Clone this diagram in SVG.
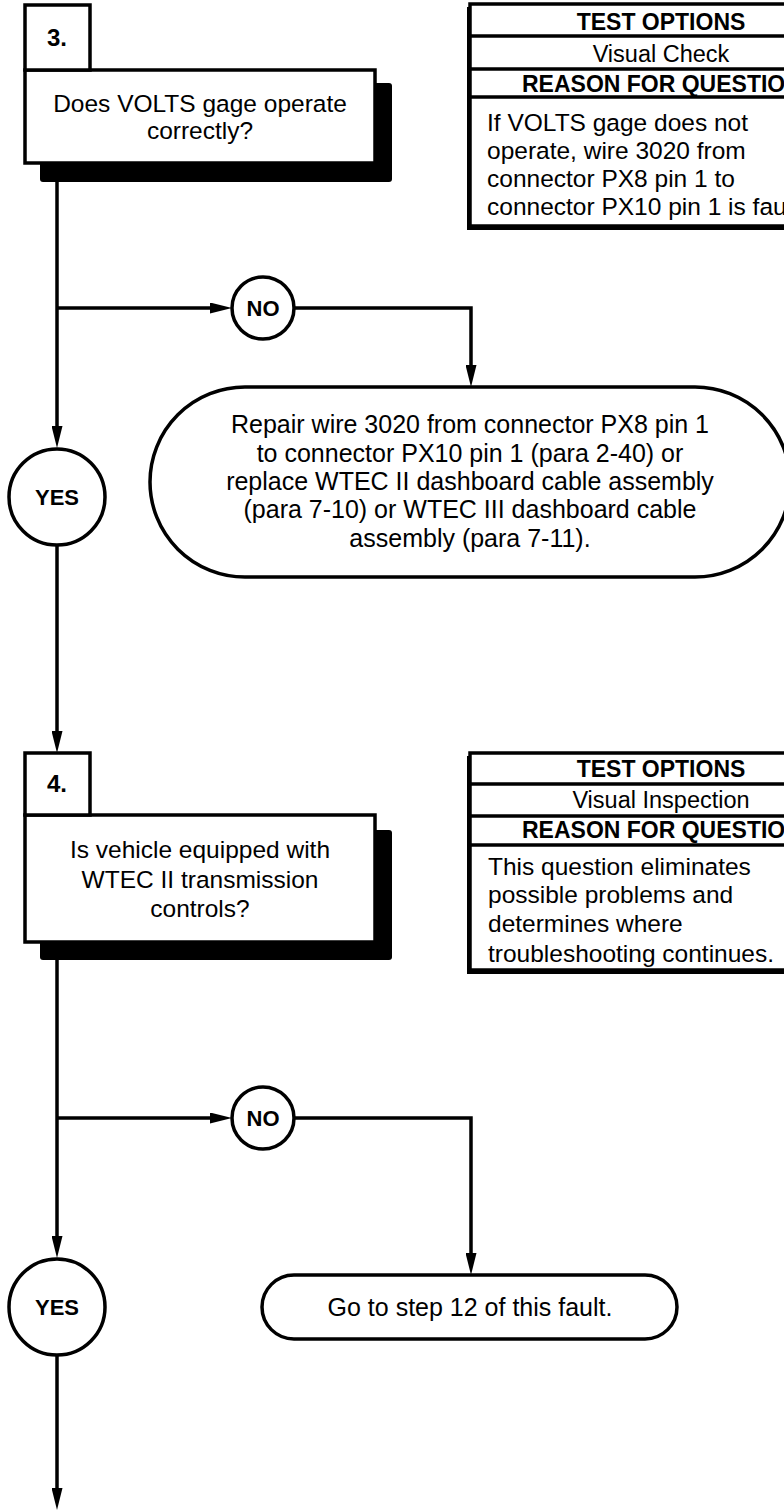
<svg xmlns="http://www.w3.org/2000/svg" width="784" height="1512" viewBox="0 0 784 1512">
<defs>
<marker id="ah" markerUnits="userSpaceOnUse" markerWidth="22" markerHeight="11" refX="10" refY="5.5" orient="auto">
<path d="M0,0 L22,5.5 L0,11 Z" fill="#000"/>
</marker>
<style>
.bx{fill:#fff;stroke:#000;stroke-width:3.5}
.sh{fill:#000}
.ln{fill:none;stroke:#000;stroke-width:3.5}
.cn{fill:none;stroke:#000;stroke-width:3.5;marker-end:url(#ah)}
.t{font-family:"Liberation Sans",Arial,sans-serif;fill:#000}
.q{font-size:24.5px;text-anchor:middle}
.num{font-size:24px;font-weight:bold;text-anchor:middle}
.lbl{font-size:22px;font-weight:bold;text-anchor:middle}
.hd{font-size:23px;font-weight:bold}
.rw{font-size:23.5px;text-anchor:middle}
.bd{font-size:24.5px}
.ov{font-size:25px;text-anchor:middle}
</style>
</defs>
<rect width="784" height="1512" fill="#fff"/>

<g id="connectors">
<path class="cn" d="M57,182 V436"/>
<path class="cn" d="M57,308 H220"/>
<path class="cn" d="M294,308 H471 V375"/>
<path class="cn" d="M57,545 V741"/>
<path class="cn" d="M57,960 V1246"/>
<path class="cn" d="M57,1118 H220"/>
<path class="cn" d="M294,1118 H471 V1263"/>
<path class="cn" d="M57,1355 V1498"/>
</g>

<g id="step3">
<rect class="sh" x="40" y="83" width="352" height="99" rx="3"/>
<rect class="bx" x="25" y="70" width="350" height="93"/>
<rect class="bx" x="25" y="5" width="65" height="65"/>
<text class="t num" x="57" y="46">3.</text>
<text class="t q" x="200" y="112">Does VOLTS gage operate</text>
<text class="t q" x="200" y="139">correctly?</text>
</g>

<g id="testbox3">
<rect class="sh" x="467" y="7" width="400" height="223"/>
<rect class="bx" x="470" y="4" width="400" height="222"/>
<line class="ln" x1="470" y1="36" x2="784" y2="36"/>
<line class="ln" x1="470" y1="69" x2="784" y2="69"/>
<line class="ln" x1="470" y1="97" x2="784" y2="97"/>
<text class="t hd" x="661" y="30" text-anchor="middle">TEST OPTIONS</text>
<text class="t rw" x="661" y="62">Visual Check</text>
<text class="t hd" x="522" y="92">REASON FOR QUESTIO</text>
<text class="t bd" x="487" y="131">If VOLTS gage does not</text>
<text class="t bd" x="487" y="159">operate, wire 3020 from</text>
<text class="t bd" x="487" y="187">connector PX8 pin 1 to</text>
<text class="t bd" x="487" y="215">connector PX10 pin 1 is fau</text>
</g>

<g id="no3">
<circle class="bx" cx="263" cy="308" r="31"/>
<text class="t lbl" x="263" y="316">NO</text>
</g>

<g id="yes3">
<circle class="bx" cx="57" cy="497" r="48"/>
<text class="t lbl" x="57" y="505">YES</text>
</g>

<g id="repair">
<rect class="bx" x="150" y="387" width="640" height="190" rx="95"/>
<text class="t ov" x="470" y="433">Repair wire 3020 from connector PX8 pin 1</text>
<text class="t ov" x="470" y="462">to connector PX10 pin 1 (para 2-40) or</text>
<text class="t ov" x="470" y="490">replace WTEC II dashboard cable assembly</text>
<text class="t ov" x="470" y="518">(para 7-10) or WTEC III dashboard cable</text>
<text class="t ov" x="470" y="547">assembly (para 7-11).</text>
</g>

<g id="step4">
<rect class="sh" x="40" y="830" width="352" height="130" rx="3"/>
<rect class="bx" x="25" y="815" width="350" height="127"/>
<rect class="bx" x="25" y="753" width="65" height="62"/>
<text class="t num" x="57" y="792">4.</text>
<text class="t q" x="200" y="858">Is vehicle equipped with</text>
<text class="t q" x="200" y="888">WTEC II transmission</text>
<text class="t q" x="200" y="917">controls?</text>
</g>

<g id="testbox4">
<rect class="sh" x="467" y="756" width="400" height="218"/>
<rect class="bx" x="470" y="753" width="400" height="217"/>
<line class="ln" x1="470" y1="784" x2="784" y2="784"/>
<line class="ln" x1="470" y1="816" x2="784" y2="816"/>
<line class="ln" x1="470" y1="845" x2="784" y2="845"/>
<text class="t hd" x="661" y="777" text-anchor="middle">TEST OPTIONS</text>
<text class="t rw" x="661" y="808">Visual Inspection</text>
<text class="t hd" x="522" y="838">REASON FOR QUESTIO</text>
<text class="t bd" x="488" y="875">This question eliminates</text>
<text class="t bd" x="488" y="903">possible problems and</text>
<text class="t bd" x="488" y="932">determines where</text>
<text class="t bd" x="488" y="962">troubleshooting continues.</text>
</g>

<g id="no4">
<circle class="bx" cx="263" cy="1118" r="31"/>
<text class="t lbl" x="263" y="1126">NO</text>
</g>

<g id="yes4">
<circle class="bx" cx="57" cy="1307" r="48"/>
<text class="t lbl" x="57" y="1315">YES</text>
</g>

<g id="goto12">
<rect class="bx" x="262" y="1275" width="415" height="64" rx="32"/>
<text class="t ov" x="470" y="1316">Go to step 12 of this fault.</text>
</g>
</svg>
